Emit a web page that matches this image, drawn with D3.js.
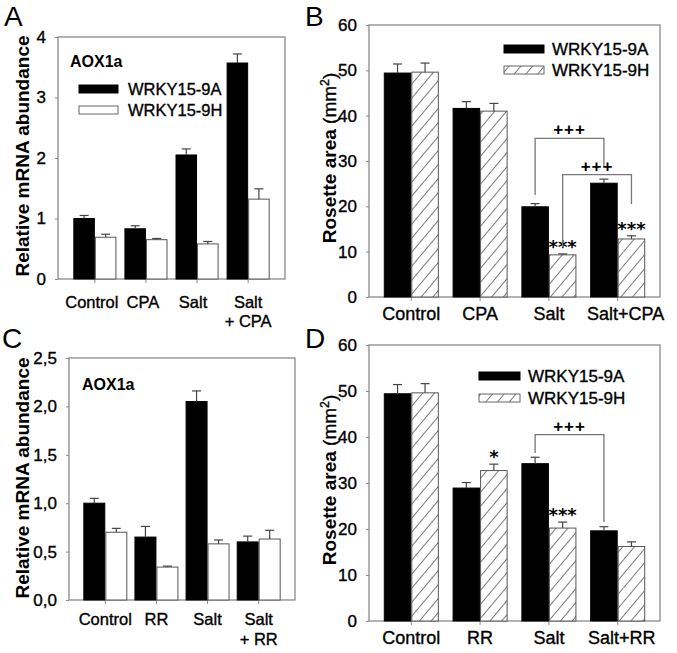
<!DOCTYPE html>
<html><head><meta charset="utf-8">
<script src="https://cdn.jsdelivr.net/npm/d3@7"></script>
<style>
html,body{margin:0;padding:0;background:#fff;}
svg{display:block;font-family:"Liberation Sans",Arial,Helvetica,sans-serif;}
.heavy{stroke:#000;stroke-width:0.35px;paint-order:stroke;}
</style></head>
<body>
<svg id="chart" width="677" height="653"></svg>
<script>
// ---------- DATA ----------
const seriesNames = ["WRKY15-9A", "WRKY15-9H"];

// Panel A: AOX1a relative mRNA abundance (CPA)
const catsA = [["Control"], ["CPA"], ["Salt"], ["Salt", "+ CPA"]];
const aValues9A = [1.00, 0.83, 2.05, 3.57];
const aErr9A    = [0.05, 0.05, 0.10, 0.15];
const aValues9H = [0.69, 0.65, 0.58, 1.32];
const aErr9H    = [0.05, 0.02, 0.04, 0.17];
const aTicks = [0, 1, 2, 3, 4];
const aTickLabels = ["0", "1", "2", "3", "4"];

// Panel B: Rosette area (CPA)
const catsB = [["Control"], ["CPA"], ["Salt"], ["Salt+CPA"]];
const bValues9A = [49.4, 41.6, 19.9, 25.1];
const bErr9A    = [2.0, 1.5, 0.7, 0.9];
const bValues9H = [49.6, 41.0, 9.3, 12.8];
const bErr9H    = [2.0, 1.7, 0.2, 0.7];
const bTicks = [0, 10, 20, 30, 40, 50, 60];
const bTickLabels = ["0", "10", "20", "30", "40", "50", "60"];
const bStars9H = ["", "", "***", "***"];

// Panel C: AOX1a relative mRNA abundance (RR)
const catsC = [["Control"], ["RR"], ["Salt"], ["Salt", "+ RR"]];
const cValues9A = [1.00, 0.65, 2.05, 0.60];
const cErr9A    = [0.05, 0.11, 0.11, 0.06];
const cValues9H = [0.70, 0.34, 0.58, 0.63];
const cErr9H    = [0.04, 0.01, 0.04, 0.09];
const cTicks = [0, 0.5, 1.0, 1.5, 2.0, 2.5];
const cTickLabels = ["0,0", "0,5", "1,0", "1,5", "2,0", "2,5"];

// Panel D: Rosette area (RR)
const catsD = [["Control"], ["RR"], ["Salt"], ["Salt+RR"]];
const dValues9A = [49.4, 28.9, 34.2, 19.6];
const dErr9A    = [2.0, 1.2, 1.4, 0.9];
const dValues9H = [49.6, 32.7, 20.2, 16.2];
const dErr9H    = [2.0, 1.4, 1.3, 1.0];
const dTicks = [0, 10, 20, 30, 40, 50, 60];
const dTickLabels = ["0", "10", "20", "30", "40", "50", "60"];
const dStars9H = ["", "*", "***", ""];

// significance brackets (values in data units)
const bBrackets = [
  {c1: 2, s1: 0, c2: 3, s2: 0, top: 35, end1: 22.5, end2: 28.8, label: "+++"},
  {c1: 2, s1: 1, c2: 3, s2: 1, top: 27, end1: 11, end2: 20.5, label: "+++"}
];
const dBrackets = [
  {c1: 2, s1: 0, c2: 3, s2: 0, top: 40.5, end1: 36.5, end2: 21.5, label: "+++"}
];

// ---------- DRAWING ----------
const svg = d3.select("#chart");
const defs = svg.append("defs");
const pat = defs.append("pattern").attr("id", "hatch")
  .attr("patternUnits", "userSpaceOnUse").attr("width", 9).attr("height", 9)
  .attr("patternTransform", "rotate(40)");
pat.append("rect").attr("width", 9).attr("height", 9).attr("fill", "#fff");
pat.append("line").attr("x1", 0).attr("y1", 0).attr("x2", 0).attr("y2", 9)
  .attr("stroke", "#333").attr("stroke-width", 1.3);

const FRAME = "#8a8a8a";

function drawPanel(cfg) {
  const g = svg.append("g");
  const n = cfg.cats.length;
  const x = d3.scaleBand().domain(d3.range(n)).range([cfg.left, cfg.right])
    .paddingInner(cfg.pIn).paddingOuter(cfg.pOut);
  const x2 = d3.scaleBand().domain([0, 1]).range([0, x.bandwidth()]);
  const y = d3.scaleLinear().domain([0, cfg.yMax]).range([cfg.bottom, cfg.top]);

  // y axis
  const ya = g.append("g").attr("transform", `translate(${cfg.left},0)`)
    .call(d3.axisLeft(y).tickValues(cfg.ticks).tickFormat((d, i) => cfg.tickLabels[i])
      .tickSize(3).tickPadding(cfg.tickPad));
  ya.select(".domain").remove();
  ya.selectAll(".tick line").attr("stroke", FRAME);
  ya.selectAll(".tick text").attr("font-size", cfg.tickFont).attr("fill", "#000")
    .attr("class", "heavy")
    .attr("font-family", "Liberation Sans, Arial, sans-serif");

  // x axis ticks
  const xa = g.append("g").attr("transform", `translate(0,${cfg.bottom})`)
    .call(d3.axisBottom(x).tickSize(4).tickFormat(""));
  xa.select(".domain").remove();
  xa.selectAll(".tick line").attr("stroke", FRAME);

  // frame
  g.append("rect").attr("x", cfg.left).attr("y", cfg.top)
    .attr("width", cfg.right - cfg.left).attr("height", cfg.bottom - cfg.top)
    .attr("fill", "none").attr("stroke", FRAME).attr("stroke-width", 1.3);

  const series = [
    {vals: cfg.v9A, err: cfg.e9A, fill: "#000", stroke: "#000"},
    {vals: cfg.v9H, err: cfg.e9H, fill: cfg.hatched ? "url(#hatch)" : "#fff", stroke: "#555"}
  ];
  series.forEach((s, si) => {
    const bg = g.append("g");
    bg.selectAll("rect").data(s.vals).join("rect")
      .attr("x", (d, i) => x(i) + x2(si) + 0.5)
      .attr("y", d => y(d))
      .attr("width", x2.bandwidth() - 1)
      .attr("height", d => y(0) - y(d))
      .attr("fill", s.fill).attr("stroke", s.stroke).attr("stroke-width", 1);
    // error bars
    const eg = g.append("g").attr("stroke", "#444").attr("stroke-width", 1.2);
    s.vals.forEach((v, i) => {
      const cx = x(i) + x2(si) + x2.bandwidth() / 2;
      eg.append("line").attr("x1", cx).attr("x2", cx).attr("y1", y(v)).attr("y2", y(v + s.err[i]));
      eg.append("line").attr("x1", cx - 4.5).attr("x2", cx + 4.5)
        .attr("y1", y(v + s.err[i])).attr("y2", y(v + s.err[i]));
    });
  });

  // stars
  if (cfg.stars) {
    cfg.stars.forEach((st, i) => {
      if (!st) return;
      const cx = x(i) + x2(1) + x2.bandwidth() / 2;
      g.append("text").attr("x", cx).attr("y", y(cfg.v9H[i] + cfg.e9H[i]) - 1)
        .attr("text-anchor", "middle").attr("font-size", 18).attr("font-weight", "bold")
        .attr("letter-spacing", 0).attr("font-family", "DejaVu Sans, sans-serif").text(st);
    });
  }
  // brackets
  if (cfg.brackets) {
    cfg.brackets.forEach(b => {
      const xa1 = x(b.c1) + x2(b.s1) + x2.bandwidth() / 2;
      const xb1 = x(b.c2) + x2(b.s2) + x2.bandwidth() / 2;
      g.append("path")
        .attr("d", `M${xa1},${y(b.end1)}V${y(b.top)}H${xb1}V${y(b.end2)}`)
        .attr("fill", "none").attr("stroke", "#777").attr("stroke-width", 1.3);
      g.append("text").attr("x", (xa1 + xb1) / 2).attr("y", y(b.top) - 3)
        .attr("text-anchor", "middle").attr("font-size", 17).attr("font-weight", "bold")
        .attr("letter-spacing", 1).text(b.label);
    });
  }

  // category labels
  cfg.cats.forEach((lines, i) => {
    const t = g.append("text").attr("text-anchor", "middle").attr("class", "heavy")
      .attr("font-size", cfg.catFont).attr("fill", "#000");
    lines.forEach((ln, li) => {
      t.append("tspan").attr("x", x(i) + x.bandwidth() / 2 + (cfg.catShift ? cfg.catShift[i] : 0))
        .attr("y", cfg.catY + li * cfg.catLine).text(ln);
    });
  });

  // y title
  const yt = g.append("text").attr("text-anchor", "middle")
    .attr("transform", `translate(${cfg.titleX},${cfg.titleY}) rotate(-90)`)
    .attr("font-size", cfg.titleFont).attr("fill", "#000");
  cfg.title.forEach(p => {
    const ts = yt.append("tspan").attr("font-weight", p.bold ? "bold" : "normal").text(p.t);
    if (!p.bold) ts.attr("class", "heavy");
    if (p.sup) ts.attr("baseline-shift", "super").attr("font-size", cfg.titleFont * 0.65);
  });

  // panel letter
  g.append("text").attr("x", cfg.letterX).attr("y", cfg.letterY)
    .attr("font-size", 28).attr("fill", "#000").text(cfg.letter);

  // gene label
  if (cfg.gene) {
    g.append("text").attr("x", cfg.gene.x).attr("y", cfg.gene.y)
      .attr("font-size", 16).attr("font-weight", "bold").text("AOX1a");
  }

  // legend
  if (cfg.legend) {
    const L = cfg.legend;
    seriesNames.forEach((nm, si) => {
      g.append("rect").attr("x", L.x).attr("y", L.y + si * L.dy - L.h / 2)
        .attr("width", L.w).attr("height", L.h)
        .attr("fill", si === 0 ? "#000" : (cfg.hatched ? "url(#hatch)" : "#fff"))
        .attr("stroke", si === 0 ? "#000" : "#666").attr("stroke-width", 1);
      g.append("text").attr("x", L.x + L.w + L.gap).attr("y", L.y + si * L.dy)
        .attr("class", "heavy")
        .attr("dy", "0.36em").attr("font-size", L.font).attr("fill", "#000").text(nm);
    });
  }
}

const relTitle = [{t: "Relative mRNA abundance", bold: true}];
const roseTitle = [{t: "Rosette area ", bold: true}, {t: "(mm"}, {t: "2", sup: true}, {t: ")"}];

drawPanel({
  letter: "A", letterX: 4, letterY: 26,
  left: 58, right: 285, top: 37, bottom: 279, pIn: 0.157, pOut: 0.3,
  yMax: 4, ticks: aTicks, tickLabels: aTickLabels, tickFont: 17, tickPad: 9,
  cats: catsA, catY: 308, catLine: 19, catFont: 16.5, catShift: [-3, -3, -4, 0],
  v9A: aValues9A, e9A: aErr9A, v9H: aValues9H, e9H: aErr9H, hatched: false,
  title: relTitle, titleX: 29, titleY: 156, titleFont: 19,
  gene: {x: 70, y: 67},
  legend: {x: 79, y: 89, dy: 21, w: 39, h: 8, gap: 10, font: 16.5}
});
drawPanel({
  letter: "B", letterX: 305, letterY: 26,
  left: 369, right: 660, top: 25, bottom: 297, pIn: 0.2, pOut: 0.215,
  yMax: 60, ticks: bTicks, tickLabels: bTickLabels, tickFont: 17, tickPad: 9,
  cats: catsB, catY: 320, catLine: 19, catFont: 18, catShift: [0, 0, 0, 8],
  v9A: bValues9A, e9A: bErr9A, v9H: bValues9H, e9H: bErr9H, hatched: true,
  stars: bStars9H, brackets: bBrackets,
  title: roseTitle, titleX: 336, titleY: 158, titleFont: 19,
  legend: {x: 504, y: 49, dy: 21, w: 40, h: 8, gap: 8, font: 17}
});
drawPanel({
  letter: "C", letterX: 2, letterY: 348,
  left: 69, right: 295, top: 358, bottom: 600, pIn: 0.14, pOut: 0.28,
  yMax: 2.5, ticks: cTicks, tickLabels: cTickLabels, tickFont: 17, tickPad: 9,
  cats: catsC, catY: 625, catLine: 20, catFont: 16.5,
  v9A: cValues9A, e9A: cErr9A, v9H: cValues9H, e9H: cErr9H, hatched: false,
  title: relTitle, titleX: 29, titleY: 478, titleFont: 19,
  gene: {x: 82, y: 390}
});
drawPanel({
  letter: "D", letterX: 305, letterY: 348,
  left: 369, right: 660, top: 345, bottom: 621, pIn: 0.2, pOut: 0.215,
  yMax: 60, ticks: dTicks, tickLabels: dTickLabels, tickFont: 17, tickPad: 9,
  cats: catsD, catY: 644, catLine: 19, catFont: 18, catShift: [0, 0, 0, 4],
  v9A: dValues9A, e9A: dErr9A, v9H: dValues9H, e9H: dErr9H, hatched: true,
  stars: dStars9H, brackets: dBrackets,
  title: roseTitle, titleX: 336, titleY: 480, titleFont: 19,
  legend: {x: 479, y: 376, dy: 22, w: 41, h: 8, gap: 8, font: 17}
});
</script>
</body></html>
